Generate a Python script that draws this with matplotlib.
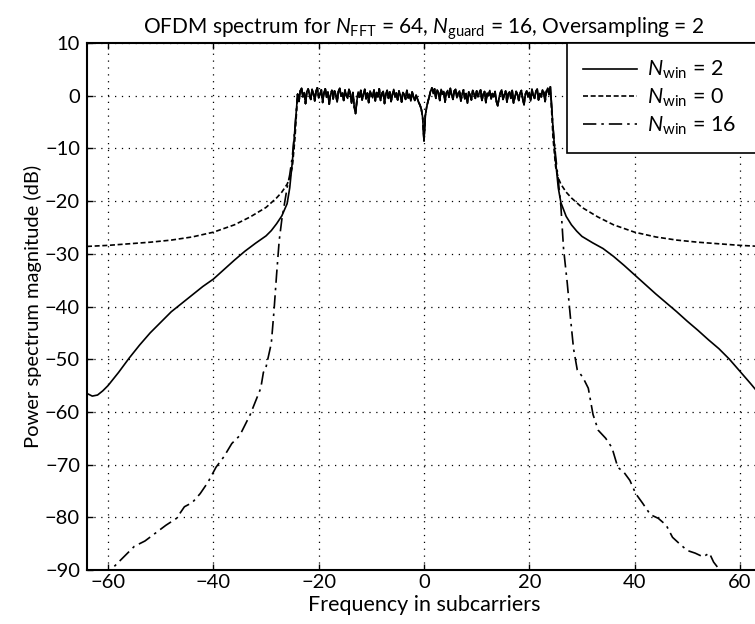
import numpy as np
import matplotlib
matplotlib.use('Agg')
import matplotlib.pyplot as plt

# In-band power (dB), shared by the three windows, from -24 to +24 subcarriers in 0.25 steps
inband_db = [
    0.3, -1.1, 0.9, 1.4, -0.2, 0.6, -1.5, 0.8, 1.3, 0.1,
    -0.7, 1.2, 0.4, -1.0, 0.9, 1.5, -0.4, 0.2, 1.1, -1.3,
    0.5, 1.3, -0.3, 0.7, -1.6, 0.2, 1.0, -0.6, 0.9, 0.3,
    -1.2, 0.8, 1.4, -0.1, 0.5, -0.9, 1.1, 0.0, -0.5, 1.2,
    0.4, -1.4, 0.6, -2.1, -3.4, -1.0, 0.7, -0.3, 1.0, -0.8,
    0.3, 1.2, -0.6, 0.5, -1.3, 0.9, 0.2, -0.4, 1.1, -1.0,
    0.6, -0.2, 1.3, -0.9, 0.4, 0.8, -1.5, 0.3, 1.0, -0.5,
    0.7, -1.1, 0.2, 1.2, -0.3, 0.5, -0.8, 0.9, 0.1, -1.2,
    0.6, 0.2, -0.7, 1.0, -0.4, 0.3, -1.0, 0.7, -0.2, -0.9,
    0.1, -0.6, -1.3, -1.8, -2.6, -4.2, -8.6, -3.8, -2.2, -1.1,
    -0.2, 0.9, 1.5, 0.4, 1.3, -0.5, 1.1, 0.6, -0.9, 1.2,
    0.3, 0.8, -1.2, 0.5, 1.0, -0.3, 1.4, 0.2, -0.7, 0.9,
    1.2, -0.4, 0.5, 0.9, -1.0, 0.3, 1.1, -0.6, 0.4, -1.4,
    0.7, 0.1, -0.8, 1.0, 0.4, -0.5, 0.9, -0.2, 0.6, 1.1,
    -0.9, 0.3, 0.8, -1.3, 0.5, 0.0, 1.0, -0.6, 0.4, -0.2,
    0.8, -1.1, -1.9, -0.4, 0.6, 1.1, -0.7, 0.2, 0.9, -1.2,
    0.4, 0.7, -0.5, 1.0, -1.4, -0.3, 0.8, 0.2, -0.9, 0.5,
    1.0, -0.6, -1.7, 0.3, 0.9, -0.2, 0.6, -1.0, 1.2, 0.1,
    -0.5, 0.8, 1.3, -0.8, 0.4, -0.3, 1.1, 0.6, -1.1, 0.9,
    1.4, 0.2, 1.7,
]
inband_freq = np.linspace(-24, 24, len(inband_db))

# N_win = 2 (solid)
win2_left_freq = [-64, -63, -62, -61, -60, -58, -56, -54, -52, -50, -48, -46, -44, -42,
                  -40, -38, -36, -34, -32, -30, -29, -28, -27, -26, -25.5, -25, -24.5]
win2_left_db = [-56.5, -57.0, -56.8, -56.0, -55.0, -52.5, -49.8, -47.3, -45.0, -43.0, -41.0,
                -39.4, -37.8, -36.2, -34.8, -33.0, -31.2, -29.5, -28.0, -26.6, -25.6, -24.3,
                -22.8, -20.5, -17.5, -12.5, -6.0]
win2_right_freq = [24.5, 25, 25.5, 26, 27, 28, 29, 30, 32, 34, 36, 38, 40, 42, 44, 46, 48,
                   50, 52, 54, 56, 58, 60, 62, 64]
win2_right_db = [-6.0, -12.5, -17.5, -20.3, -22.9, -24.5, -25.7, -26.7, -27.9, -29.0, -30.5,
                 -32.2, -34.0, -35.8, -37.6, -39.3, -41.0, -42.8, -44.5, -46.3, -48.0, -50.0,
                 -52.3, -54.6, -57.0]

# N_win = 0 (dashed)
win0_left_freq = [-64, -60, -56, -52, -48, -44, -40, -36, -33, -30, -28, -27, -26, -25.5,
                  -25, -24.5]
win0_left_db = [-28.6, -28.4, -28.1, -27.8, -27.4, -26.8, -25.9, -24.5, -23.0, -21.2, -19.4,
                -18.3, -16.8, -15.6, -13.5, -8.0]
win0_right_freq = [24.5, 25, 25.5, 26, 27, 28, 30, 33, 36, 40, 44, 48, 52, 56, 60, 64]
win0_right_db = [-8.0, -13.5, -15.6, -16.8, -18.3, -19.4, -21.2, -23.0, -24.5, -25.9, -26.8,
                 -27.4, -27.8, -28.1, -28.4, -28.6]

# N_win = 16 (dash-dot)
win16_left_freq = [-61, -59, -57, -55, -53, -51, -49, -47, -45.5, -44, -42.5, -41, -39.5,
                   -38, -36.5, -35, -34, -33, -32, -31, -30.5, -30, -29, -28.5, -28, -27.5,
                   -27, -26.5, -26, -25.5, -25, -24.5]
win16_left_db = [-92, -89.5, -87.5, -85.5, -84.5, -83, -81.5, -80.2, -78, -77.2, -75.5, -73.3,
                 -70.5, -68.5, -66, -64.5, -62.5, -60.5, -58, -55.5, -52.5, -51.5, -47, -41,
                 -34, -27.5, -23.5, -20.5, -17.5, -15, -11.5, -6]
win16_right_freq = [24.5, 25, 25.5, 26, 26.5, 27.2, 27.8, 28.4, 29.1, 30.2, 31.2, 32.1, 33.1,
                    34.5, 35.7, 36.8, 38, 39.1, 40.2, 41.5, 43, 44.5, 46, 47.2, 48.5, 50,
                    51.5, 53, 54.2, 55, 56, 57.5]
win16_right_db = [-6, -11.5, -16, -21, -29, -35.5, -42, -48, -52, -53.5, -55.5, -60.5, -63.5,
                  -65, -66.8, -70.5, -71.5, -73, -75.5, -77.3, -79.5, -80.2, -81.5, -83.8,
                  -85, -86.3, -86.8, -87.5, -86.8, -88.5, -89.8, -92]

x_ticks = [-60, -40, -20, 0, 20, 40, 60]
y_ticks = [-90, -80, -70, -60, -50, -40, -30, -20, -10, 0, 10]


def full_series(left_f, left_db, right_f, right_db):
    freq = np.concatenate([left_f, inband_freq, right_f])
    db = np.concatenate([left_db, inband_db, right_db])
    return freq, db


font = 'Lato'
plt.rcParams['font.family'] = [font, 'DejaVu Sans']
plt.rcParams['mathtext.fontset'] = 'custom'
plt.rcParams['mathtext.rm'] = font
plt.rcParams['mathtext.it'] = font + ':italic'

fig = plt.figure(figsize=(7.55, 6.24), dpi=100)
ax = fig.add_axes([87 / 755, 54 / 624, 674 / 755, 527 / 624])

f2, d2 = full_series(win2_left_freq, win2_left_db, win2_right_freq, win2_right_db)
f0, d0 = full_series(win0_left_freq, win0_left_db, win0_right_freq, win0_right_db)
f16, d16 = full_series(win16_left_freq, win16_left_db, win16_right_freq, win16_right_db)

ax.plot(f2, d2, color='black', lw=1.2, label=r'$N_{\rm win}$ = 2')
ax.plot(f0, d0, color='black', lw=1.2, dashes=(3, 1.6), label=r'$N_{\rm win}$ = 0')
ax.plot(f16, d16, color='black', lw=1.2, dashes=(8, 3, 1.5, 3), label=r'$N_{\rm win}$ = 16')

ax.set_xlim(-64, 64)
ax.set_ylim(-90, 10)
ax.set_xticks(x_ticks)
ax.set_yticks(y_ticks)
ax.set_xticklabels([str(t).replace('-', '\u2212') for t in x_ticks])
ax.set_yticklabels([str(t).replace('-', '\u2212') for t in y_ticks])
ax.tick_params(direction='in', length=4, width=1, labelsize=14.5, top=True, right=True)
ax.tick_params(axis='x', pad=3)
ax.tick_params(axis='y', pad=5)
ax.grid(True, color='black', linestyle=(0, (1, 4.5)), linewidth=0.9)
for s in ax.spines.values():
    s.set_linewidth(1.5)

ax.set_title(r'OFDM spectrum for $N_{\rm FFT}$ = 64, $N_{\rm guard}$ = 16, Oversampling = 2',
             fontsize=15, pad=7)
ax.set_xlabel('Frequency in subcarriers', fontsize=15.5, labelpad=3)
ax.set_ylabel('Power spectrum magnitude (dB)', fontsize=14.5, labelpad=2)

leg = ax.legend(loc='upper left', bbox_to_anchor=(0.712, 0, 0.288, 1), mode='expand',
                borderaxespad=0, fontsize=15.5, handlelength=2.5, handletextpad=0.45,
                labelspacing=0.25, borderpad=0.75, fancybox=False, framealpha=1)
leg.get_frame().set_edgecolor('black')
leg.get_frame().set_linewidth(1.2)

fig.savefig('out.png', dpi=100)
